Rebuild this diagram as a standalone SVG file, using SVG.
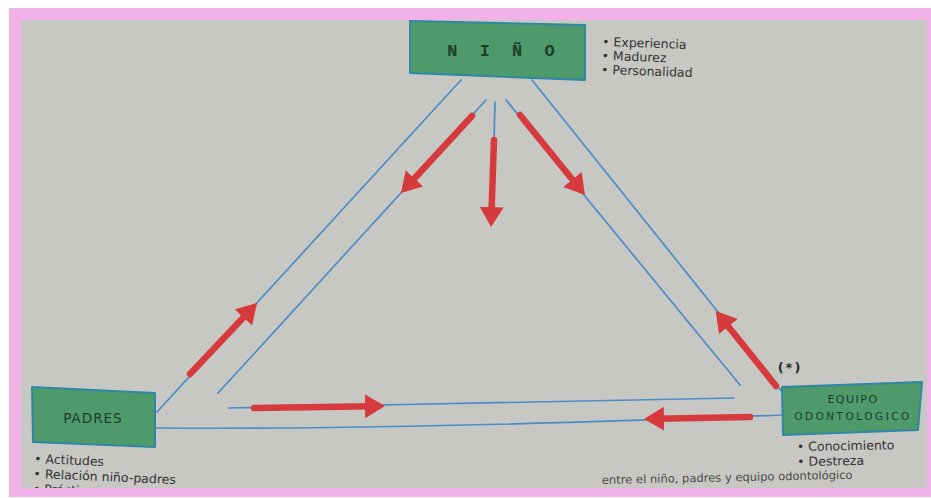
<svg xmlns="http://www.w3.org/2000/svg" width="931" height="498" viewBox="0 0 931 498">
<defs>
<style>
.box{fill:#4e9a6b;stroke:#2f86a6;stroke-width:2;stroke-linejoin:round}
.blue{fill:none;stroke:#4d8dc6;stroke-width:1.7;stroke-linecap:round}
.red{fill:none;stroke:#d63a3c;stroke-width:6.5;stroke-linecap:round;marker-end:url(#head)}
.lbl{font-family:"DejaVu Sans",sans-serif;fill:#1e3d2a}
.note{font-family:"DejaVu Sans",sans-serif;font-size:12.5px;fill:#333333}
</style>
<marker id="head" markerUnits="userSpaceOnUse" markerWidth="22" markerHeight="26" refX="8" refY="12" orient="auto">
<path d="M0,0 L20,12 L0,24 Z" fill="#d63a3c"/>
</marker>
</defs>
<rect x="0" y="0" width="931" height="498" fill="#ffffff"/>
<rect x="21" y="20" width="906" height="468" fill="#c7c8c3"/>

<g id="connectors">
<line class="blue" x1="461" y1="80" x2="157" y2="412"/>
<line class="blue" x1="486" y1="100" x2="218" y2="393"/>
<line class="blue" x1="495" y1="102" x2="494" y2="140"/>
<line class="blue" x1="506" y1="100" x2="740" y2="385"/>
<line class="blue" x1="532" y1="80" x2="783" y2="393"/>
<line class="blue" x1="229" y1="408" x2="734" y2="398"/>
<path class="blue" d="M155,428 Q400,430 782,415"/>
<line class="red" x1="472" y1="116" x2="409.1" y2="184.2"/>
<line class="red" x1="494" y1="140" x2="491.4" y2="215"/>
<line class="red" x1="520" y1="115" x2="577.4" y2="185.7"/>
<line class="red" x1="776" y1="386" x2="723.3" y2="320.3"/>
<line class="red" x1="190" y1="374" x2="248.8" y2="311.7"/>
<line class="red" x1="254" y1="408" x2="373" y2="406.2"/>
<line class="red" x1="750" y1="417" x2="656" y2="418.8"/>
</g>

<g id="nino">
<polygon class="box" points="410,21 585,25 585,80 410,73"/>
<text x="504" y="56" text-anchor="middle" font-family="Liberation Mono, monospace" font-weight="bold" font-size="17" letter-spacing="6" fill="#1e3d2a">N I Ñ O</text>
<g transform="rotate(2 603 46)">
<text class="note" x="602" y="46">• Experiencia</text>
<text class="note" x="602" y="60">• Madurez</text>
<text class="note" x="602" y="74">• Personalidad</text>
</g>
</g>

<g id="padres">
<polygon class="box" points="32,387 155,393 155,447 33,442"/>
<text class="lbl" x="93" y="423" text-anchor="middle" font-size="13.5" letter-spacing="1">PADRES</text>
<g transform="rotate(2.5 35 463)">
<text class="note" x="34" y="463" font-size="13">• Actitudes</text>
<text class="note" x="34" y="478" font-size="13">• Relación niño-padres</text>
<text class="note" x="34" y="493" font-size="13">• Práctica</text>
</g>
</g>

<g id="equipo">
<polygon class="box" points="782,387 922,382 918,430 783,435"/>
<text class="lbl" x="853" y="403" text-anchor="middle" font-size="11" letter-spacing="1.5">EQUIPO</text>
<text class="lbl" x="853" y="420" text-anchor="middle" font-size="10.5" letter-spacing="2.5">ODONTOLOGICO</text>
<text x="790" y="372" text-anchor="middle" font-family="DejaVu Sans, sans-serif" font-size="13" font-weight="bold" fill="#2a2a2a" letter-spacing="2">(*)</text>
<g transform="rotate(-1 798 452)">
<text class="note" x="797" y="451" font-size="11">• Conocimiento</text>
<text class="note" x="797" y="466" font-size="11">• Destreza</text>
</g>
</g>

<text x="602" y="484" transform="rotate(-1.2 602 484)" font-family="DejaVu Sans, sans-serif" font-size="11.5" fill="#4a4a4a">entre el niño, padres y equipo odontológico</text>

<path d="M9,8 H931 V497 H9 Z M21,20 V488 H927 V20 Z" fill="#f1b2e7" fill-rule="evenodd"/>
</svg>
